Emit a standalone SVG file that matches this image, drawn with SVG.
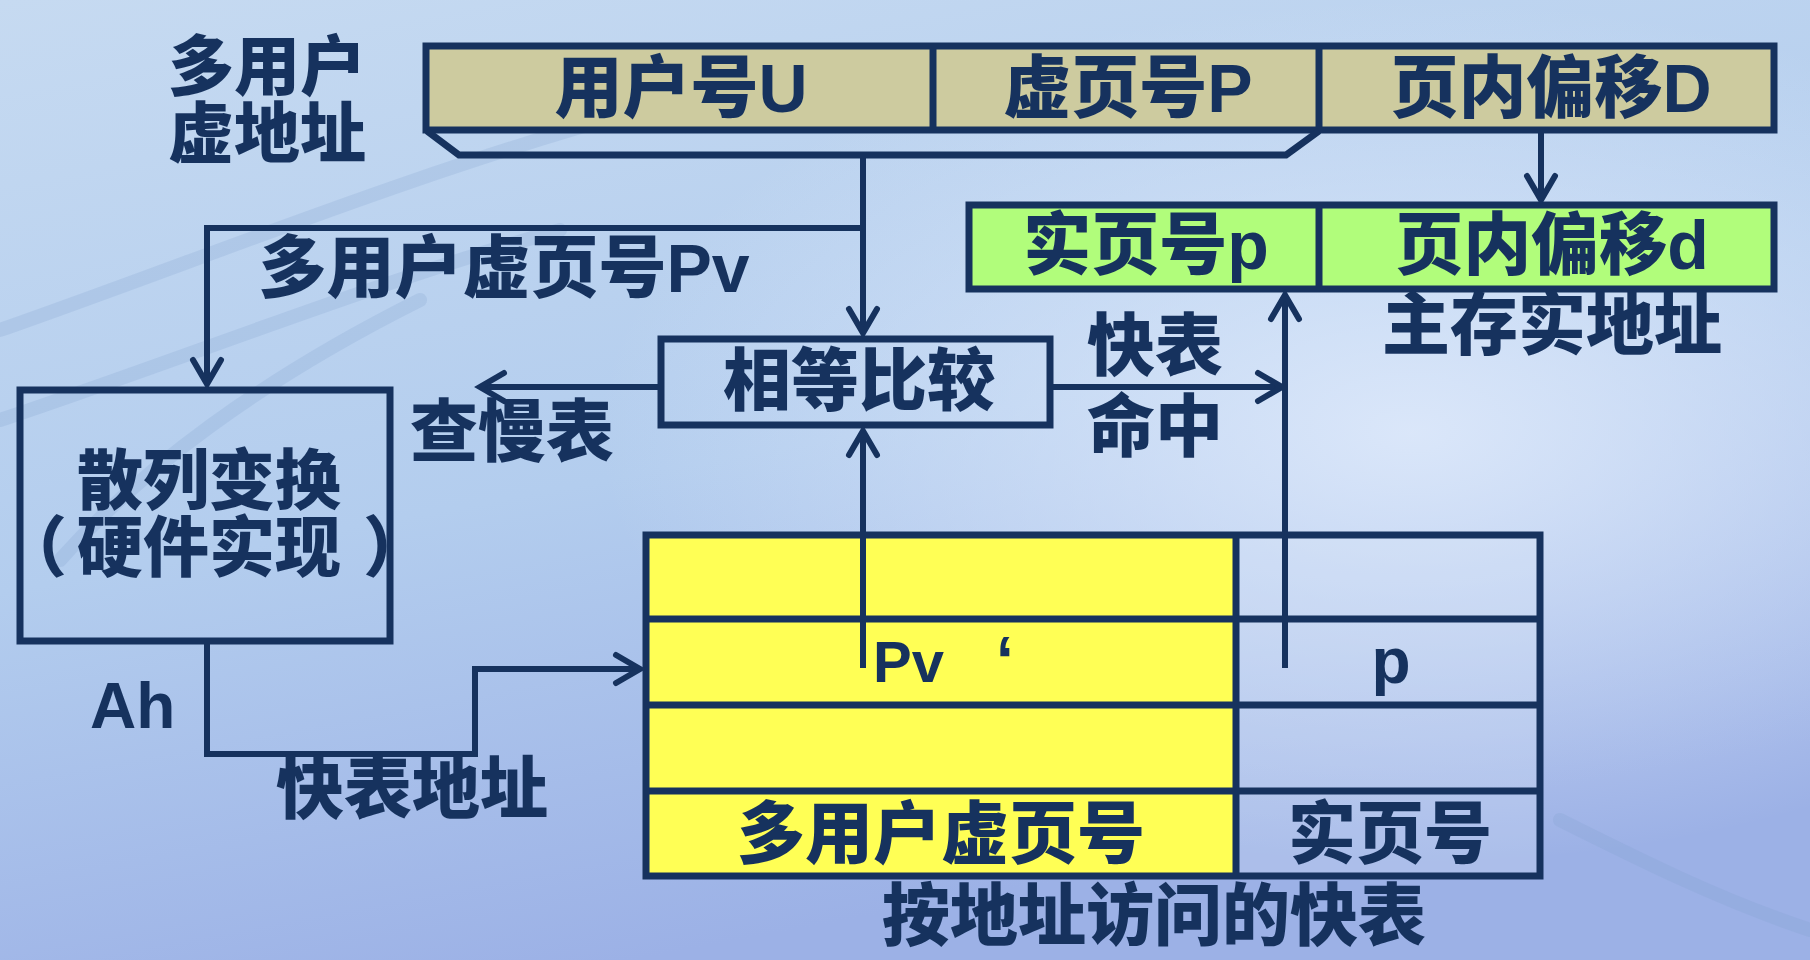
<svg xmlns="http://www.w3.org/2000/svg" width="1810" height="960" viewBox="0 0 1810 960">
  <defs>
    <linearGradient id="bg" x1="0" y1="0" x2="0.35" y2="1">
      <stop offset="0" stop-color="#c6daf1"/>
      <stop offset="0.55" stop-color="#b3cdee"/>
      <stop offset="1" stop-color="#9cb1e6"/>
    </linearGradient>
    <radialGradient id="glow" cx="0.78" cy="0.45" r="0.45">
      <stop offset="0" stop-color="#dfeafb" stop-opacity="0.9"/>
      <stop offset="1" stop-color="#dfeafb" stop-opacity="0"/>
    </radialGradient>
    <marker id="arrow" markerUnits="userSpaceOnUse" markerWidth="40" markerHeight="40" viewBox="-30 -20 40 40" refX="0" refY="0" orient="auto">
      <path d="M -24 -14 L 0 0 L -24 14" fill="none" stroke="#16325e" stroke-width="6" stroke-linecap="round" stroke-linejoin="miter"/>
    </marker>
    <style>
      .box { stroke: #16325e; stroke-width: 7; }
      .arr { fill: none; stroke: #16325e; stroke-width: 6; marker-end: url(#arrow); }
      .t { font-family: "Liberation Sans", "Noto Sans CJK SC", sans-serif; font-weight: 900; font-size: 68px; fill: #16325e; text-anchor: middle; dominant-baseline: central; }
      .t2 { font-size: 66px; }
      .lat { font-family: "Liberation Sans", "Noto Sans CJK SC", sans-serif; font-weight: 700; fill: #16325e; }
    </style>
  </defs>

  <!-- backdrop -->
  <rect x="0" y="0" width="1810" height="960" fill="url(#bg)"/>
  <rect x="0" y="0" width="1810" height="960" fill="url(#glow)"/>
  <g fill="none" stroke="#7f9fcf" stroke-opacity="0.22" stroke-width="14" stroke-linecap="round">
    <path d="M 0 330 C 200 260 420 170 640 110"/>
    <path d="M 0 420 C 180 360 380 280 560 230"/>
    <path d="M 60 560 C 140 470 260 380 420 300"/>
    <path d="M 1560 820 C 1640 860 1720 900 1810 930"/>
  </g>

  <!-- multi-user virtual address -->
  <g id="vaddr-label">
    <text class="t t2" x="267" y="67">多用户</text>
    <text class="t t2" x="267" y="134">虚地址</text>
  </g>
  <g id="vaddr">
    <rect class="box" x="426" y="46" width="1348" height="84" fill="#cdcb9f"/>
    <line class="box" x1="933" y1="46" x2="933" y2="130"/>
    <line class="box" x1="1319" y1="46" x2="1319" y2="130"/>
    <text class="t" x="681" y="88">用户号U</text>
    <text class="t" x="1128" y="88">虚页号P</text>
    <text class="t" x="1551" y="88">页内偏移D</text>
  </g>
  <polyline id="vpage-bracket" class="box" fill="none" points="427,131 459,155 1286,155 1319,131"/>

  <!-- real main-memory address -->
  <g id="raddr">
    <rect class="box" x="969" y="205" width="805" height="84" fill="#b1fd7b"/>
    <line class="box" x1="1319" y1="205" x2="1319" y2="289"/>
    <text class="t" x="1146" y="245">实页号p</text>
    <text class="t" x="1552" y="245">页内偏移d</text>
    <text class="t" x="1552" y="325">主存实地址</text>
  </g>

  <!-- hashing unit -->
  <g id="hash">
    <rect class="box" x="20" y="390" width="370" height="251" fill="none"/>
    <text class="t t2" x="209" y="481">散列变换</text>
    <text class="t t2" x="209" y="548"><tspan x="34">（</tspan><tspan x="209">硬件实现</tspan><tspan x="396">）</tspan></text>
  </g>

  <!-- comparator -->
  <g id="compare">
    <rect class="box" x="661" y="339" width="389" height="86" fill="none"/>
    <text class="t" x="859" y="381">相等比较</text>
  </g>

  <!-- address-indexed TLB -->
  <g id="tlb">
    <rect x="646" y="535" width="590" height="341" fill="#ffff55"/>
    <rect x="1236" y="535" width="304" height="341" fill="#dce8f8" fill-opacity="0.25"/>
    <rect class="box" x="646" y="535" width="894" height="341" fill="none"/>
    <line class="box" x1="646" y1="619" x2="1540" y2="619"/>
    <line class="box" x1="646" y1="705" x2="1540" y2="705"/>
    <line class="box" x1="646" y1="791" x2="1540" y2="791"/>
    <line class="box" x1="1236" y1="535" x2="1236" y2="876"/>
    <text class="lat" x="873" y="682" font-size="58">Pv<tspan x="996" font-size="64">‘</tspan></text>
    <text class="lat" x="1391" y="683" font-size="64" text-anchor="middle">p</text>
    <text class="t" x="941" y="834">多用户虚页号</text>
    <text class="t" x="1390" y="834">实页号</text>
    <text class="t" x="1154" y="916">按地址访问的快表</text>
  </g>

  <!-- connectors -->
  <g id="connectors">
    <path class="arr" d="M 863 155 V 333"/>
    <path class="arr" d="M 863 228 H 207 V 384"/>
    <path class="arr" d="M 661 387 H 480"/>
    <path class="arr" d="M 1050 387 H 1282"/>
    <path class="arr" d="M 1285 668 V 295"/>
    <path class="arr" d="M 1541 133 V 200"/>
    <path class="arr" d="M 863 668 V 431"/>
    <path class="arr" d="M 207 641 V 754 H 475 V 669 H 640"/>
  </g>

  <!-- connector labels -->
  <g id="labels">
    <text class="t" x="504" y="268">多用户虚页号Pv</text>
    <text class="t" x="512" y="432">查慢表</text>
    <text class="t" x="1155" y="346">快表</text>
    <text class="t" x="1155" y="427">命中</text>
    <text class="lat" x="90" y="728" font-size="64">Ah</text>
    <text class="t" x="412" y="789">快表地址</text>
  </g>
</svg>
